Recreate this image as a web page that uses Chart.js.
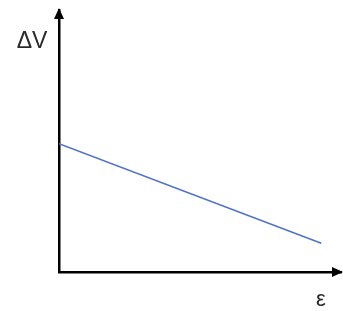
<html>
<head>
<meta charset="utf-8">
<title>Delta V vs strain</title>
<script src="https://cdn.jsdelivr.net/npm/chart.js@4.4.0/dist/chart.umd.min.js"></script>
<style>
  body { margin: 0; background: #fff; }
  #wrap { width: 343px; height: 311px; }
</style>
</head>
<body>
<div id="wrap"><canvas id="plot"></canvas></div>

<script>
  // values (axis units are arbitrary, 0..10)
  var strain = [0, 9.3]
  var deltaV = [4.9, 1.1]
  var xLabel = "ε"
  var yLabel = "ΔV"

  // arrow heads + axis labels
  var axisDeco = {
    id: 'axisDeco',
    afterDraw(chart) {
      var c = chart.ctx, a = chart.chartArea;
      c.save();
      c.fillStyle = '#000';
      // y arrow
      c.beginPath();
      c.moveTo(a.left, a.top - 2);
      c.lineTo(a.left - 5, a.top + 9);
      c.lineTo(a.left + 5, a.top + 9);
      c.closePath();
      c.fill();
      // x arrow
      c.beginPath();
      c.moveTo(a.right + 2, a.bottom);
      c.lineTo(a.right - 9, a.bottom - 5);
      c.lineTo(a.right - 9, a.bottom + 5);
      c.closePath();
      c.fill();
      c.fillStyle = '#2a2a2a';
      c.font = '23px "Liberation Sans", Arial, sans-serif';
      c.textAlign = 'center';
      c.textBaseline = 'alphabetic';
      c.fillText(yLabel, 32, 48);
      c.font = '22px "Liberation Sans", Arial, sans-serif';
      c.fillText(xLabel, 321, 306);
      c.restore();
    }
  };

  var ctx = document.getElementById("plot").getContext("2d");
  let chart = new Chart(ctx, {
    type: 'line',
    data: {
      datasets: [{
        data: strain.map((x, i) => ({ x: x, y: deltaV[i] })),
        borderColor: '#4f72c4',
        borderWidth: 1.5,
        pointRadius: 0,
        fill: false
      }]
    },
    options: {
      animation: false,
      responsive: true,
      maintainAspectRatio: false,
      layout: { padding: { left: 59, top: 10, right: 2, bottom: 39 } },
      plugins: { legend: { display: false }, tooltip: { enabled: false } },
      scales: {
        x: {
          type: 'linear', min: 0, max: 10,
          grid: { display: false, drawTicks: false },
          ticks: { display: false },
          border: { display: true, color: '#000', width: 2.5 }
        },
        y: {
          type: 'linear', min: 0, max: 10,
          grid: { display: false, drawTicks: false },
          ticks: { display: false },
          border: { display: true, color: '#000', width: 2.5 }
        }
      }
    },
    plugins: [axisDeco]
  });
</script>
</body>
</html>
